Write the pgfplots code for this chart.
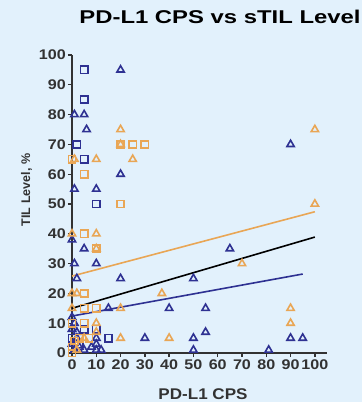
\documentclass[border=0pt]{standalone}
\usepackage{fontspec}
\setmainfont{Liberation Sans}
\newfontfamily\titlefont[FakeStretch=1.29]{Liberation Sans}
\newfontfamily\tickfont[FakeStretch=1.15]{Liberation Sans}
\newfontfamily\xlabfont[FakeStretch=1.1]{Liberation Sans}
\usepackage{pgfplots}
\pgfplotsset{compat=1.18}
\definecolor{bg}{RGB}{226,241,252}
\definecolor{navy}{RGB}{46,49,146}
\definecolor{orng}{RGB}{233,166,85}
\definecolor{axc}{RGB}{50,50,50}
\begin{document}
\begin{tikzpicture}[x=1pt,y=1pt]
\fill[bg] (-72,-49) rectangle (290,353);
\useasboundingbox (-72,-49) rectangle (290,353);
\begin{axis}[at={(0,0)}, anchor=south west, scale only axis,
  width=255pt, height=298pt,
  xmin=0, xmax=105, ymin=0, ymax=100,
  axis x line*=bottom, axis y line*=left,
  axis line style={-, line width=1.5pt, axc},
  tick align=outside, major tick length=4pt,
  tick style={line width=1.3pt, axc},
  xtick={0,10,...,100}, ytick={0,10,...,100},
  /pgf/number format/assume math mode=true,
  ticklabel style={font=\tickfont\bfseries\fontsize{14}{14}\selectfont, text=axc},
  xticklabel style={inner sep=1pt, yshift=-2pt},
  yticklabel style={inner sep=1pt, xshift=-1pt},
  clip=false,
]
% blue triangles
\addplot[only marks, mark=triangle, mark size=4.2pt, navy, mark options={line width=1.6pt, fill=none}] coordinates {
(20,95) (1,80) (5,80) (6,75) (20,60) (1,55) (10,55) (0,38) (5,35) (1,30) (10,30)
(2,25) (20,25) (15,15) (40,15) (55,15) (10,5) (30,5) (50,5) (55,7) (90,5) (95,5)
(50,1) (81,1) (65,35) (50,25) (90,70)
(0,8) (0,3) (1,1) (2,5) (3,2) (5,1) (8,2) (10,1) (12,1) (10,3) (1,10) (0,12) (2,7)
};
% blue squares
\addplot[only marks, mark=square, mark size=3.6pt, navy, mark options={line width=1.6pt, fill=none}] coordinates {
(5,95) (5,85) (2,70) (5,65) (10,50) (5,60) (5,40) (5,20) (5,10) (5,8) (15,5) (0,5) (3,3) (0,0) (10,8)
};
% orange squares
\addplot[only marks, mark=square, mark size=3.6pt, orng, mark options={line width=1.6pt, fill=none}] coordinates {
(20,70) (25,70) (30,70) (0,65) (5,60) (20,50) (5,40) (10,35) (5,20) (5,15) (10,15)
(5,10) (3,5) (7,5) (0,0) (0,2) (1,4) (0,10)
};
% orange triangles
\addplot[only marks, mark=triangle, mark size=4.2pt, orng, mark options={line width=1.6pt, fill=none}] coordinates {
(20,75) (20,70) (10,65) (25,65) (0,40) (10,40) (10,35) (0,20) (37,20) (20,15)
(10,10) (10,7) (20,5) (40,5) (70,30) (90,15) (90,10) (100,50) (100,75) (0,15)
(5,5) (2,1) (1,65) (2,20)
};
% regression lines
\addplot[orng, line width=1.6pt] coordinates {(0,25.8) (100,47.4)};
\addplot[black, line width=1.6pt] coordinates {(0,15) (100,38.9)};
\addplot[navy, line width=1.6pt] coordinates {(0,12.4) (95,26.5)};
\end{axis}
\node[anchor=base, font=\titlefont\bfseries\fontsize{18.5}{20}\selectfont] at (148,329.7) {PD-L1 CPS vs sTIL Level};
\node[anchor=base, font=\xlabfont\bfseries\fontsize{15.5}{16}\selectfont, text=axc] at (131,-46.5) {PD-L1 CPS};
\node[rotate=90, font=\bfseries\fontsize{12.5}{13}\selectfont, text=axc] at (-45.5,163) {TIL Level, \%};
\end{tikzpicture}
\end{document}
